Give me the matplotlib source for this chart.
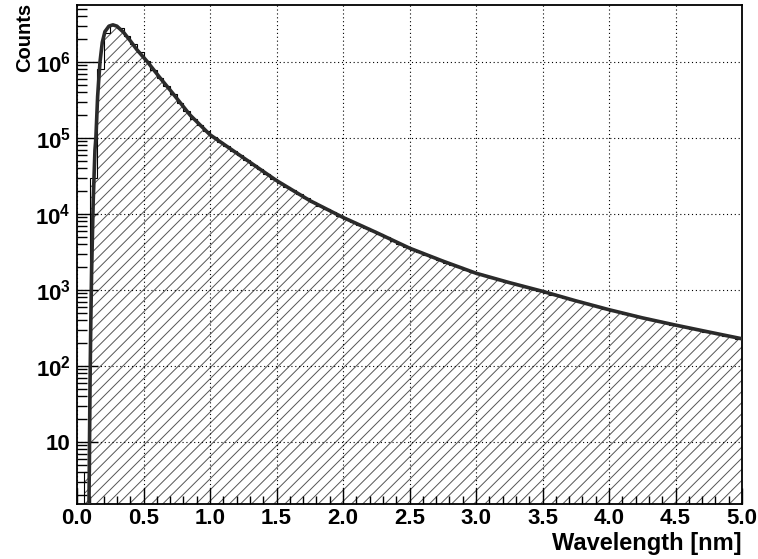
import numpy as np
import matplotlib
matplotlib.use('Agg')
import matplotlib.pyplot as plt
from matplotlib.ticker import MultipleLocator, FixedLocator, FuncFormatter, NullFormatter

# ---------------- data ----------------
x_min, x_max = 0.0, 5.0
bin_width = 0.05
counts = [
    0, 4, 3.0e4, 8.0e5, 2.4e6, 3.05e6, 2.75e6, 2.2e6, 1.72e6, 1.35e6,
    1.03e6, 7.9e5, 6.2e5, 4.8e5, 3.8e5, 2.9e5, 2.26e5, 1.8e5, 1.48e5, 1.22e5,
    1.02e5, 8.9e4, 7.8e4, 6.8e4, 5.9e4, 5.1e4, 4.45e4, 3.9e4, 3.4e4, 2.92e4,
    2.57e4, 2.29e4, 2.04e4, 1.82e4, 1.62e4, 1.45e4, 1.29e4, 1.16e4, 1.05e4, 9.4e3,
    8.5e3, 7.8e3, 7.1e3, 6.45e3, 5.9e3, 5.4e3, 4.9e3, 4.47e3, 4.07e3, 3.7e3,
    3.39e3, 3.13e3, 2.88e3, 2.69e3, 2.48e3, 2.29e3, 2.14e3, 2.0e3, 1.84e3, 1.72e3,
    1.6e3, 1.51e3, 1.43e3, 1.35e3, 1.27e3, 1.22e3, 1.15e3, 1.10e3, 1035, 977,
    923, 871, 832, 785, 741, 708, 668, 631, 603, 569,
    531, 507, 484, 462, 442, 422, 403, 385, 367, 351,
    336, 322, 309, 295, 282, 271, 260, 248, 239, 229,
]
curve_x = [0.090, 0.094, 0.098, 0.104, 0.110, 0.122, 0.135, 0.142, 0.155, 0.173,
           0.19, 0.21, 0.24, 0.27, 0.30, 0.35, 0.405, 0.45, 0.53, 0.62,
           0.718, 0.85, 1.0, 1.25, 1.5, 1.75, 2.0, 2.25, 2.5, 2.75,
           3.0, 3.25, 3.5, 3.75, 4.0, 4.25, 4.5, 4.75, 5.0]
curve_y = [1.4, 10, 60, 400, 1.8e3, 1.5e4, 6.9e4, 1.0e5, 3.5e5, 1.0e6,
           1.8e6, 2.5e6, 2.95e6, 3.07e6, 2.95e6, 2.45e6, 1.85e6, 1.45e6, 1.0e6, 6.3e5,
           3.9e5, 2.0e5, 1.1e5, 5.5e4, 2.75e4, 1.5e4, 9.0e3, 5.7e3, 3.55e3, 2.4e3,
           1.66e3, 1.25e3, 960, 720, 550, 430, 345, 280, 228]
y_lim = (1.53, 5.6e6)
y_major_ticks = [10, 1e2, 1e3, 1e4, 1e5, 1e6]
y_tick_labels = ['10', r'$10^{2}$', r'$10^{3}$', r'$10^{4}$', r'$10^{5}$', r'$10^{6}$']
x_label = 'Wavelength [nm]'
y_label = 'Counts'

# ---------------- style ----------------
plt.rcParams['font.family'] = ['Liberation Sans', 'DejaVu Sans']
plt.rcParams['font.weight'] = 'bold'
plt.rcParams['mathtext.fontset'] = 'custom'
plt.rcParams['mathtext.rm'] = 'Liberation Sans:bold'
plt.rcParams['mathtext.bf'] = 'Liberation Sans:bold'
plt.rcParams['mathtext.default'] = 'rm'
plt.rcParams['hatch.linewidth'] = 0.7

fig = plt.figure(figsize=(7.58, 5.59), dpi=100)
ax = fig.add_axes([77 / 758, 1 - 504 / 559, (742 - 77) / 758, (504 - 5) / 559])
ax.set_yscale('log')

edges = x_min + bin_width * np.arange(len(counts) + 1)
vals = np.array(counts, dtype=float)
vals_plot = np.where(vals > 0, vals, 1e-3)

ax.stairs(vals_plot, edges, baseline=1e-3, fill=True, facecolor='none',
          edgecolor='#555555', hatch='///', linewidth=0, zorder=1)
ax.stairs(vals_plot, edges, baseline=1e-3, fill=False, color='black',
          linewidth=0.8, zorder=2)
ax.plot(curve_x, curve_y, color='#2b2b2b', linewidth=2.6, zorder=3,
        solid_joinstyle='round')

ax.set_xlim(x_min, x_max)
ax.set_ylim(*y_lim)

ax.xaxis.set_major_locator(MultipleLocator(0.5))
ax.xaxis.set_minor_locator(MultipleLocator(0.1))
ax.xaxis.set_major_formatter(FuncFormatter(lambda v, p: f'{v:.1f}'))

minor_y = [m * 10.0 ** e for e in range(0, 7) for m in range(2, 10)
           if y_lim[0] < m * 10.0 ** e < y_lim[1]]
ax.yaxis.set_major_locator(FixedLocator(y_major_ticks))
ax.yaxis.set_minor_locator(FixedLocator(minor_y))
ax.set_yticks(y_major_ticks, y_tick_labels)
ax.yaxis.set_minor_formatter(NullFormatter())

ax.tick_params(axis='both', which='both', direction='in', top=False, right=False,
               width=1.0, labelsize=16)
ax.tick_params(axis='x', which='major', length=11.5, pad=3)
ax.tick_params(axis='x', which='minor', length=5.8)
ax.tick_params(axis='y', which='major', length=15, pad=4.5)
ax.tick_params(axis='y', which='minor', length=7.5)

ax.grid(True, which='major', color='black', linestyle=(0, (1, 2.5)), linewidth=0.8)

for s in ax.spines.values():
    s.set_linewidth(1.3)

ax.set_xlabel(x_label, fontsize=17, fontweight='bold')
ax.xaxis.set_label_coords(1.0, -(550 - 504) / 499)
ax.xaxis.label.set_horizontalalignment('right')
ax.xaxis.label.set_verticalalignment('baseline')

fig.text(30 / 758, 1 - 3 / 559, y_label, rotation=90, rotation_mode='anchor',
         ha='right', va='baseline', fontsize=14.5, fontweight='bold')

fig.savefig('out.png', dpi=100)
